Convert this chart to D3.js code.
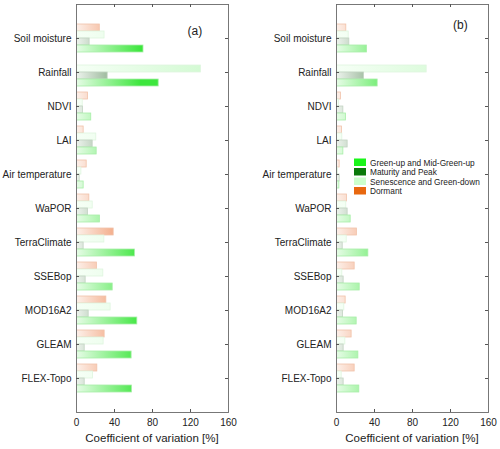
<!DOCTYPE html>
<html><head><meta charset="utf-8">
<script src="https://cdn.jsdelivr.net/npm/d3@7"></script>
<style>body{margin:0;background:#fff}svg{display:block;font-family:"Liberation Sans",Arial,sans-serif}</style>
</head><body>
<svg id="c" width="500" height="449"></svg>
<script>
const categories = ["Soil moisture","Rainfall","NDVI","LAI","Air temperature","WaPOR","TerraClimate","SSEBop","MOD16A2","GLEAM","FLEX-Topo"];
const seriesNames = ["Dormant","Senescence and Green-down","Maturity and Peak","Green-up and Mid-Green-up"];
const xTicks = [0,40,80,120,160];
// panel (a)
const aDormant    = [24, 0, 11.6, 7, 10.2, 13, 38.6, 21, 30.9, 29.1, 21.4];
const aSenescence = [29, 130.5, 6, 20.3, 4.6, 16.5, 28.8, 27.7, 35.4, 28, 16.8];
const aMaturity   = [13.3, 32.3, 6.3, 16.5, 2.8, 11.6, 7, 9.1, 12.3, 8.1, 8.1];
const aGreenup    = [70, 86, 15, 20.7, 7, 24.2, 61, 37.6, 63.5, 57.5, 57.9];
// panel (b)
const bDormant    = [9.8, 0, 4.2, 5.3, 2.8, 10.5, 21, 18.6, 9.1, 15.4, 18.6];
const bSenescence = [12.3, 94.4, 2, 5.6, 1, 9.8, 10.2, 5.6, 7.7, 8.8, 4.9];
const bMaturity   = [13, 28.4, 6.7, 11.2, 2.8, 11.2, 6, 7, 6.3, 7, 7];
const bGreenup    = [31.6, 42.8, 9.5, 6.7, 2.5, 14.4, 33, 23.9, 20.7, 22.5, 23.5];

const legendNames = ["Green-up and Mid-Green-up","Maturity and Peak","Senescence and Green-down","Dormant"];
const legendColors = ["#1af51a","#0b7a0b","#ccffcc","#e8680f"];

const grad = {
  "Dormant": {from:"#fdf1eb", to:"#f3aa86", max:42, stroke:"#f1c2aa"},
  "Senescence and Green-down": {from:"#f6fff6", to:"#d4fad4", max:130, stroke:"#dff5df"},
  "Maturity and Peak": {from:"#eef4ee", to:"#98b698", max:36, stroke:"#c3d3c3"},
  "Green-up and Mid-Green-up": {from:"#e8fce8", to:"#3de63d", max:68, stroke:"#a8eea8"}
};

const svg = d3.select("#c");
const defs = svg.append("defs");
const plotTop = 4, plotBottom = 412;
const y = d3.scalePoint().domain(categories).range([plotTop, plotBottom]).padding(1);
const sub = d3.scaleBand().domain(seriesNames).range([-14, 14]);

function panel(id, left, right, data, label, lx, ly) {
  const x = d3.scaleLinear().domain([0,160]).range([left, right]);
  const g = svg.append("g");
  seriesNames.forEach((s, si) => {
    const gd = grad[s];
    const gid = "g" + id + si;
    const lg = defs.append("linearGradient").attr("id", gid)
      .attr("gradientUnits","userSpaceOnUse")
      .attr("x1", x(0)).attr("x2", x(gd.max)).attr("y1",0).attr("y2",0);
    lg.append("stop").attr("offset","0").attr("stop-color", gd.from);
    lg.append("stop").attr("offset","1").attr("stop-color", gd.to);
    g.selectAll(null).data(data[si]).enter().append("rect")
      .attr("x", x(0) + 0.5)
      .attr("y", (d,i) => y(categories[i]) + sub(s))
      .attr("width", d => Math.max(0, x(d) - x(0)))
      .attr("height", sub.bandwidth())
      .attr("fill", `url(#${gid})`)
      .attr("stroke", d => d > 0 ? gd.stroke : "none")
      .attr("stroke-width", 0.8);
  });
  const axCol = "#777";
  const bx = g.append("g").attr("transform", `translate(0,${plotBottom})`)
    .call(d3.axisBottom(x).tickValues(xTicks).tickSize(-3).tickPadding(7));
  const tx = g.append("g").attr("transform", `translate(0,${plotTop})`)
    .call(d3.axisTop(x).tickValues(xTicks).tickSize(-3).tickFormat(""));
  const ly_ = g.append("g").attr("transform", `translate(${left},0)`)
    .call(d3.axisLeft(y).tickSize(-3).tickPadding(4.5));
  const ry = g.append("g").attr("transform", `translate(${right},0)`)
    .call(d3.axisRight(y).tickSize(-3).tickFormat(""));
  [bx,tx,ly_,ry].forEach(a => {
    a.select(".domain").attr("stroke", axCol);
    a.selectAll(".tick line").attr("stroke", "#555");
    a.selectAll("text").attr("fill","#222").style("font-size","10px").style("font-family",'"Liberation Sans",Arial,sans-serif');
  });
  g.append("text").attr("x", (left+right)/2).attr("y", 442).attr("text-anchor","middle")
    .attr("fill","#222").style("font-size","11.5px").text("Coefficient of variation [%]");
  g.append("text").attr("x", lx).attr("y", ly).attr("fill","#222").style("font-size","12px").text(label);
  return x;
}

panel("a", 76, 228, [aDormant, aSenescence, aMaturity, aGreenup], "(a)", 187.5, 35);
panel("b", 336, 488, [bDormant, bSenescence, bMaturity, bGreenup], "(b)", 453, 28.5);

const leg = svg.append("g").attr("transform","translate(354,158.5)");
legendNames.forEach((n,i) => {
  leg.append("rect").attr("x",0).attr("y", i*9.5).attr("width",12).attr("height",7.5).attr("fill", legendColors[i]);
  leg.append("text").attr("x",16).attr("y", i*9.5 + 7).attr("fill","#222").style("font-size","8.3px").text(n);
});
</script>
</body></html>
